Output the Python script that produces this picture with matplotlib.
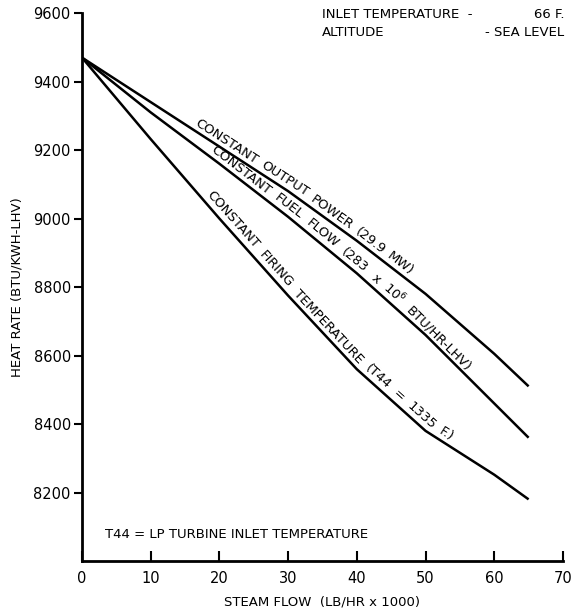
import numpy as np
import matplotlib.pyplot as plt

# steam flow (LB/HR x 1000)
steam = [0, 10, 20, 30, 40, 50, 60, 65]
# heat rate (BTU/KWH-LHV)
hr_power = [9470, 9340, 9210, 9080, 8935, 8780, 8605, 8510]
hr_fuel = [9470, 9310, 9160, 9005, 8840, 8660, 8460, 8360]
hr_firing = [9470, 9232, 9000, 8775, 8560, 8380, 8252, 8180]

lbl_power = "CONSTANT OUTPUT POWER (29.9 MW)"
lbl_fuel = "CONSTANT FUEL FLOW (283 x 10$^6$ BTU/HR-LHV)"
lbl_firing = "CONSTANT FIRING TEMPERATURE (T44 = 1335 F.)"

plt.rcParams['font.family'] = ['DejaVu Sans']
FS = 9.5

fig = plt.figure(figsize=(5.73, 6.15), dpi=100)
ax = fig.add_axes([0.143, 0.0878, 0.8395, 0.891])

for hr in (hr_power, hr_fuel, hr_firing):
    ax.plot(steam, hr, color='black', lw=1.8, solid_capstyle='butt')

ax.set_xlim(0, 70)
ax.set_ylim(8000, 9600)
ax.set_xticks(np.arange(0, 71, 10))
ax.set_yticks(np.arange(8200, 9601, 200))
ax.spines['top'].set_visible(False)
ax.spines['right'].set_visible(False)
ax.spines['left'].set_linewidth(2)
ax.spines['bottom'].set_linewidth(2)
ax.tick_params(axis='x', direction='in', length=7, width=1.5, labelsize=10.5, pad=7)
ax.tick_params(axis='y', direction='out', length=6, width=1.5, labelsize=10.5, pad=2)
ax.set_xlabel("STEAM FLOW  (LB/HR x 1000)", fontsize=FS, labelpad=7)
ax.set_ylabel("HEAT RATE (BTU/KWH-LHV)", fontsize=FS, labelpad=7)

fig.text(322 / 573, 1 - 14 / 615, "INLET TEMPERATURE  -", fontsize=FS,
         va='center', ha='left')
fig.text(564 / 573, 1 - 14 / 615, "66 F.", fontsize=FS, va='center', ha='right')
fig.text(322 / 573, 1 - 33 / 615, "ALTITUDE", fontsize=FS, va='center', ha='left')
fig.text(564 / 573, 1 - 33 / 615, "- SEA LEVEL", fontsize=FS, va='center', ha='right')
ax.text(3.3, 8076, "T44 = LP TURBINE INLET TEMPERATURE", fontsize=FS,
        va='center', ha='left')

# write labels word by word along the curves
fig.canvas.draw()
renderer = fig.canvas.get_renderer()


def curve_label(xs, ys, text, x_start, gap=2.0, sp=0.45):
    pts = ax.transData.transform(np.column_stack([xs, ys]))
    seg = np.diff(pts, axis=0)
    seglen = np.hypot(seg[:, 0], seg[:, 1])
    cum = np.concatenate([[0], np.cumsum(seglen)])
    p0 = ax.transData.transform((x_start, np.interp(x_start, xs, ys)))
    i0 = np.searchsorted(pts[:, 0], p0[0]) - 1
    s = cum[i0] + np.hypot(*(p0 - pts[i0]))
    space = FS * 100 / 72 * sp
    for word in text.split(' '):
        tmp = ax.text(0, 0, word, fontsize=FS)
        width = tmp.get_window_extent(renderer).width
        tmp.remove()
        # tangent taken at the middle of the word
        sm = s + width / 2
        i = int(np.clip(np.searchsorted(cum, sm) - 1, 0, len(seg) - 1))
        ang = np.degrees(np.arctan2(seg[i, 1], seg[i, 0]))
        i = int(np.clip(np.searchsorted(cum, s) - 1, 0, len(seg) - 1))
        t = (s - cum[i]) / seglen[i]
        p = pts[i] + t * seg[i]
        n = np.array([-seg[i, 1], seg[i, 0]]) / seglen[i]
        qd = ax.transData.inverted().transform(p + n * gap)
        ax.text(qd[0], qd[1], word, fontsize=FS, rotation=ang,
                rotation_mode='anchor', ha='left', va='bottom')
        s += width + space


curve_label(steam, hr_power, lbl_power, 16.0)
curve_label(steam, hr_fuel, lbl_fuel, 18.2, sp=0.6)
curve_label(steam, hr_firing, lbl_firing, 17.5, sp=0.6)

fig.savefig("out.png", dpi=100)
